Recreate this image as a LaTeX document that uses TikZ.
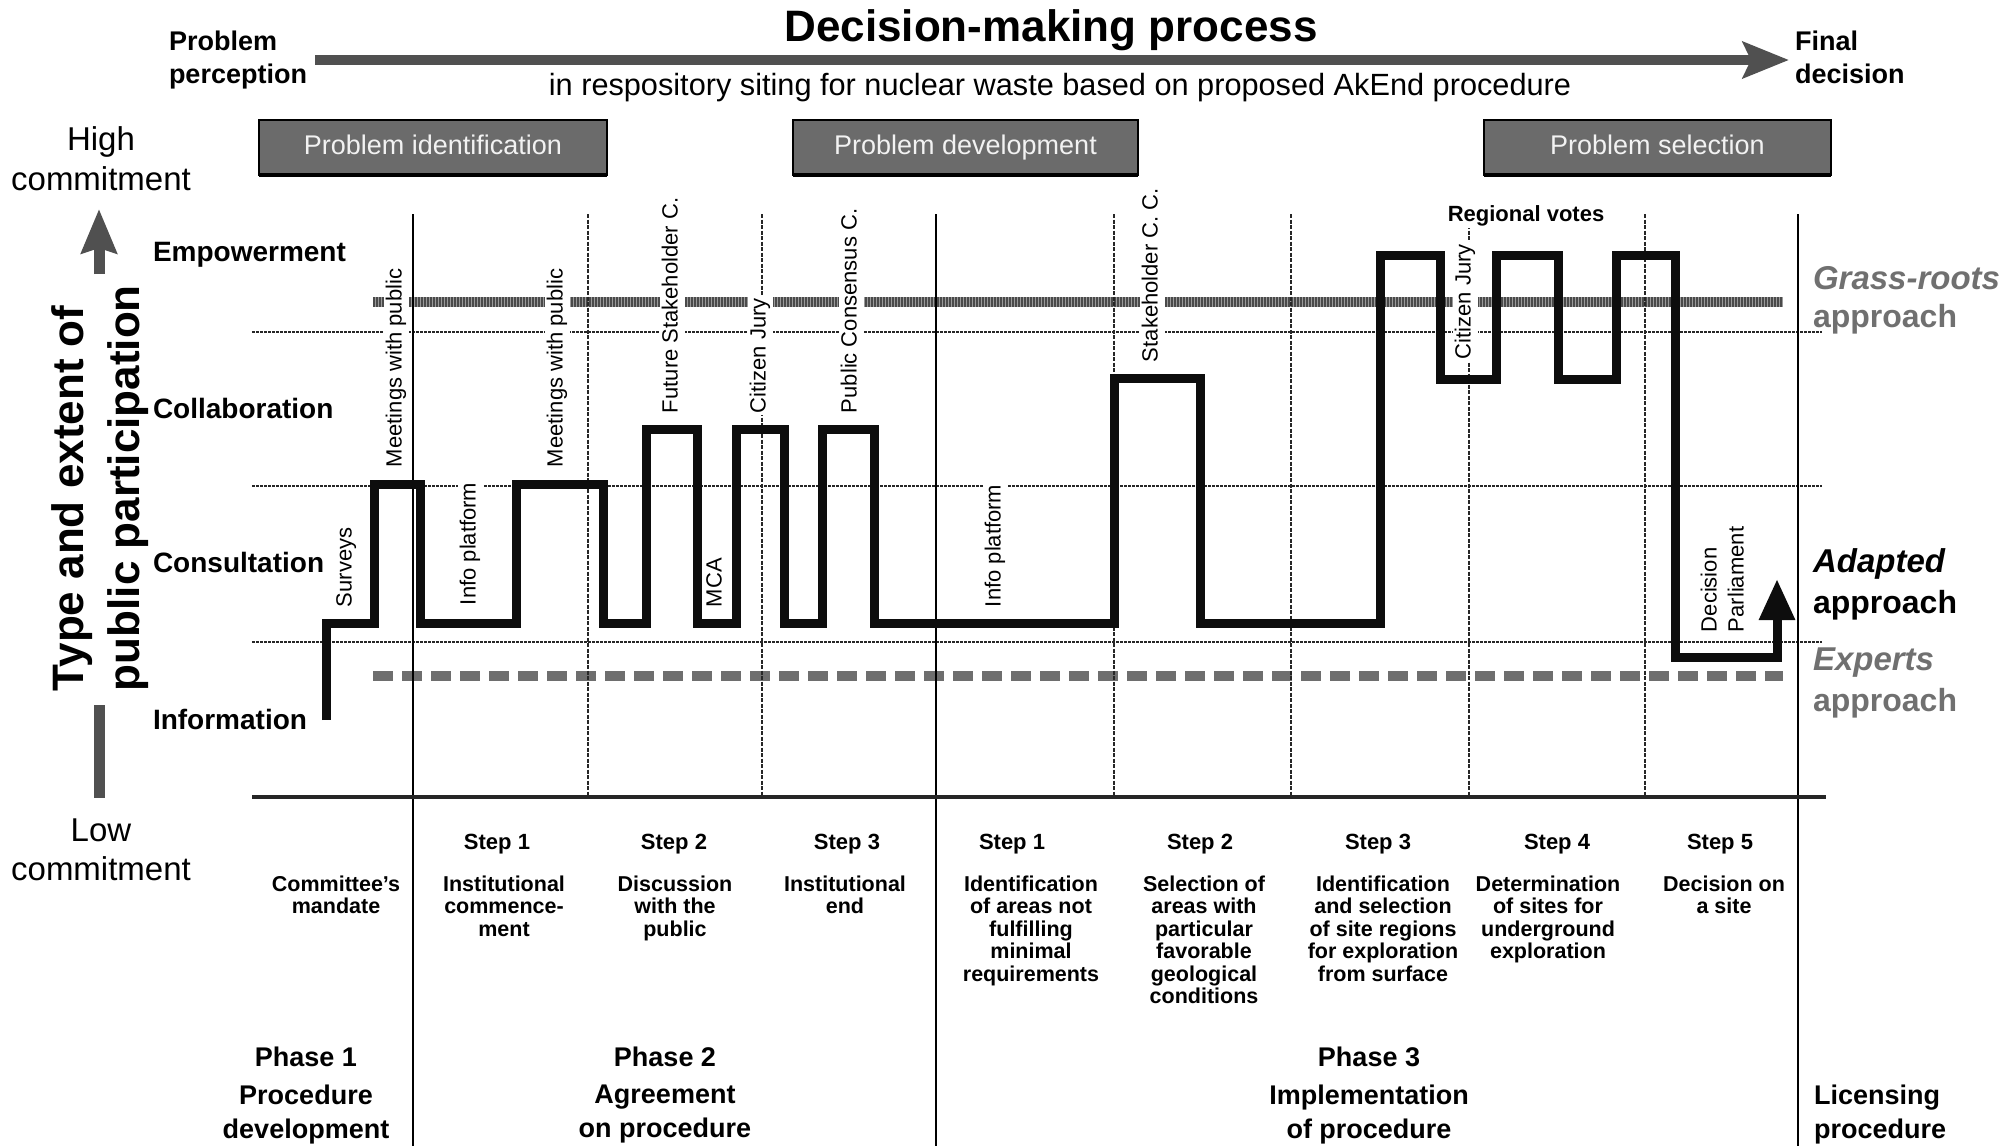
\documentclass[tikz,border=0pt]{standalone}
\usepackage{fontspec}
\setmainfont{Liberation Sans}
\usetikzlibrary{arrows.meta}
\definecolor{boxgray}{HTML}{6B6B6B}
\definecolor{arrgray}{HTML}{505050}
\definecolor{leggray}{HTML}{707070}
\definecolor{hatchgray}{HTML}{9A9A9A}
\definecolor{hatchdark}{HTML}{4A4A4A}
\definecolor{expgray}{HTML}{6E6E6E}
\newcommand{\fz}[2]{\fontsize{#1pt}{#2pt}\selectfont}
\begin{document}
\begin{tikzpicture}[x=1pt,y=-1pt,
  every node/.style={inner sep=0pt, outer sep=0pt},
  lvl/.style={font=\bfseries\fz{28}{32}, anchor=base west},
  phasebox/.style={draw=black, line width=2pt, fill=boxgray, text=white!95!black, font=\fz{27}{32}, minimum height=55pt, text height=19.5pt, text depth=5.5pt},
  gridline/.style={line width=2.5pt, dash pattern=on 3pt off 1pt, black!85},
  vgrid/.style={line width=2pt, dash pattern=on 4pt off 1.5pt, black!85},
  sepline/.style={line width=2.2pt, black},
  act/.style={font=\fz{22}{27}, rotate=90, anchor=west, fill=white, inner sep=2pt, text height=16pt, text depth=5pt},
  steplbl/.style={font=\bfseries\fz{22}{26}, anchor=base},
  desc/.style={font=\bfseries\fz{21.5}{22.4}, align=center, anchor=north},
  phasett/.style={font=\bfseries\fz{27}{32}, anchor=base},
  phasedesc/.style={font=\bfseries\fz{27}{33.5}, align=center, anchor=north},
  hdr/.style={font=\bfseries\fz{27}{32}, anchor=base west},
  commit/.style={font=\fz{33}{40}, anchor=base},
  legit/.style={font=\bfseries\itshape\fz{33}{40}, anchor=base west},
  legup/.style={font=\bfseries\fz{32}{40}, anchor=base west},
  bigax/.style={font=\bfseries\fz{44}{54}, rotate=90, anchor=base west},
  stepline/.style={line width=9pt, black!95, line join=miter}
]
\useasboundingbox (0,0) rectangle (2005,1146);

% ---------- header ----------
\node[font=\bfseries\fz{44}{50}, anchor=base] (title) at (1051,41) {Decision-making process};
\coordinate (ha) at (315,60);
\coordinate (hb) at (1789,60);
\draw[arrgray, line width=10pt, -{Stealth[length=46pt,width=36pt,inset=8pt]}] (ha) -- (hb);
\node[font=\fz{30.7}{36}, anchor=base] (subt) at (1060,95) {in respository siting for nuclear waste based on proposed AkEnd procedure};
\node[hdr] (pp1) at (169,50) {Problem};
\node[hdr] (pp2) at (169,83) {perception};
\node[hdr] (fd1) at (1795,50) {Final};
\node[hdr] (fd2) at (1795,83) {decision};

% ---------- phase boxes ----------
\node[phasebox, minimum width=348pt] (bid) at (433,147.5) {Problem identification};
\node[phasebox, minimum width=345pt] (bdev) at (965.5,147.5) {Problem development};
\node[phasebox, minimum width=347pt] (bsel) at (1657.5,147.5) {Problem selection};
\draw[line width=4pt] (bid.south west) -- (bid.south east);
\draw[line width=4pt] (bdev.south west) -- (bdev.south east);
\draw[line width=4pt] (bsel.south west) -- (bsel.south east);

% ---------- left axis ----------
\node[commit] (hc1) at (101,150) {High};
\node[commit] (hc2) at (101,190) {commitment};
\node[commit] (lc1) at (101,841) {Low};
\node[commit] (lc2) at (101,880) {commitment};
\coordinate (ua0) at (99,274);
\coordinate (ua1) at (99,209);
\draw[arrgray, line width=11pt, -{Stealth[length=44pt,width=35pt,inset=5pt]}] (ua0) -- (ua1);
\coordinate (la0) at (99,705);
\coordinate (la1) at (99,798);
\draw[arrgray, line width=11pt] (la0) -- (la1);
\node[bigax] (ax1) at (83,691) {Type and extent of};
\node[bigax] (ax2) at (139,691) {public participation};

\node[lvl] (lv1) at (153,261) {Empowerment};
\node[lvl] (lv2) at (153,418) {Collaboration};
\node[lvl] (lv3) at (153,572) {Consultation};
\node[lvl] (lv4) at (153,729) {Information};

% ---------- grid ----------
\draw[gridline] (252,332) -- (1822,332);
\draw[gridline] (252,486) -- (1822,486);
\draw[gridline] (252,642) -- (1822,642);
\draw[line width=10pt, hatchgray] (373,302) -- (1783,302);
\draw[line width=10pt, hatchdark, dash pattern=on 1.5pt off 1.5pt] (373,302) -- (1783,302);
\draw[line width=10pt, expgray, dash pattern=on 20pt off 9pt] (373,676) -- (1783,676);
\foreach \vx in {588,762,1114,1291,1469,1645} \draw[vgrid] (\vx,214) -- (\vx,797);
\draw[sepline] (413,214) -- (413,1146);
\draw[sepline] (936,214) -- (936,1146);
\draw[sepline] (1798,214) -- (1798,1146);
\draw[line width=4pt, black!85] (252,797) -- (1826,797);

% ---------- activity labels ----------
\node[act] (a1) at (346,609) {Surveys};
\node[act] (a2) at (396,469) {Meetings with public};
\node[act] (a3) at (470,607) {Info platform};
\node[act] (a4) at (557,469) {Meetings with public};
\node[act] (a5) at (672,415) {Future Stakeholder C.};
\node[act] (a6) at (716,609) {MCA};
\node[act] (a7) at (760,415) {Citizen Jury};
\node[act] (a8) at (851,415) {Public Consensus C.};
\node[act] (a9) at (995,609) {Info platform};
\node[act] (a10) at (1152,364) {Stakeholder C. C.};
\node[act] (a11) at (1465,361) {Citizen Jury};
\node[act, fill=none] (a12) at (1711,634) {Decision};
\node[act, fill=none] (a13) at (1738,634) {Parliament};
\node[font=\bfseries\fz{22}{26}, fill=white, inner sep=2pt] (rv) at (1526,216) {Regional votes};

% ---------- participation path ----------
\draw[stepline, -{Triangle[length=41pt,width=34pt]}]
  (326,720) -- (326,623) -- (374,623) -- (374,484) -- (420,484) -- (420,623)
  -- (516,623) -- (516,484) -- (603,484) -- (603,623) -- (646,623)
  -- (646,429) -- (697,429) -- (697,623) -- (736,623) -- (736,429) -- (784,429)
  -- (784,623) -- (822,623) -- (822,429) -- (874,429) -- (874,623)
  -- (1114,623) -- (1114,378) -- (1200,378) -- (1200,623) -- (1380,623)
  -- (1380,255) -- (1440,255) -- (1440,379) -- (1496,379) -- (1496,255)
  -- (1558,255) -- (1558,379) -- (1616,379) -- (1616,255) -- (1675,255)
  -- (1675,657) -- (1777,657) -- (1777,579);

% ---------- legend ----------
\node[legit, text=leggray] (g1) at (1813,289) {Grass-roots};
\node[legup, text=leggray] (g2) at (1813,327) {approach};
\node[legit] (ad1) at (1813,572) {Adapted};
\node[legup] (ad2) at (1813,613) {approach};
\node[legit, text=leggray] (ex1) at (1813,670) {Experts};
\node[legup, text=leggray] (ex2) at (1813,711) {approach};

% ---------- steps ----------
\node[steplbl] (s21) at (497,849) {Step 1};
\node[steplbl] (s22) at (674,849) {Step 2};
\node[steplbl] (s23) at (847,849) {Step 3};
\node[steplbl] (s31) at (1012,849) {Step 1};
\node[steplbl] (s32) at (1200,849) {Step 2};
\node[steplbl] (s33) at (1378,849) {Step 3};
\node[steplbl] (s34) at (1557,849) {Step 4};
\node[steplbl] (s35) at (1720,849) {Step 5};

\node[desc] (d1) at (336,876) {Committee’s\\mandate};
\node[desc] (d21) at (504,876) {Institutional\\commence-\\ment};
\node[desc] (d22) at (675,876) {Discussion\\with the\\public};
\node[desc] (d23) at (845,876) {Institutional\\end};
\node[desc] (d31) at (1031,876) {Identification\\of areas not\\fulfilling\\minimal\\requirements};
\node[desc] (d32) at (1204,876) {Selection of\\areas with\\particular\\favorable\\geological\\conditions};
\node[desc] (d33) at (1383,876) {Identification\\and selection\\of site regions\\for exploration\\from surface};
\node[desc] (d34) at (1548,876) {Determination\\of sites for\\underground\\exploration};
\node[desc] (d35) at (1724,876) {Decision on\\a site};

% ---------- phases ----------
\node[phasett] (p1) at (306,1066) {Phase 1};
\node[phasett] (p2) at (665,1066) {Phase 2};
\node[phasett] (p3) at (1369,1066) {Phase 3};
\node[phasedesc] (pd1) at (306,1085) {Procedure\\development};
\node[phasedesc] (pd2) at (665,1085) {Agreement\\on procedure};
\node[phasedesc] (pd3) at (1369,1085) {Implementation\\of procedure};
\node[phasedesc, align=left, anchor=north west] (pd4) at (1814,1085) {Licensing\\procedure};
\end{tikzpicture}
\end{document}
